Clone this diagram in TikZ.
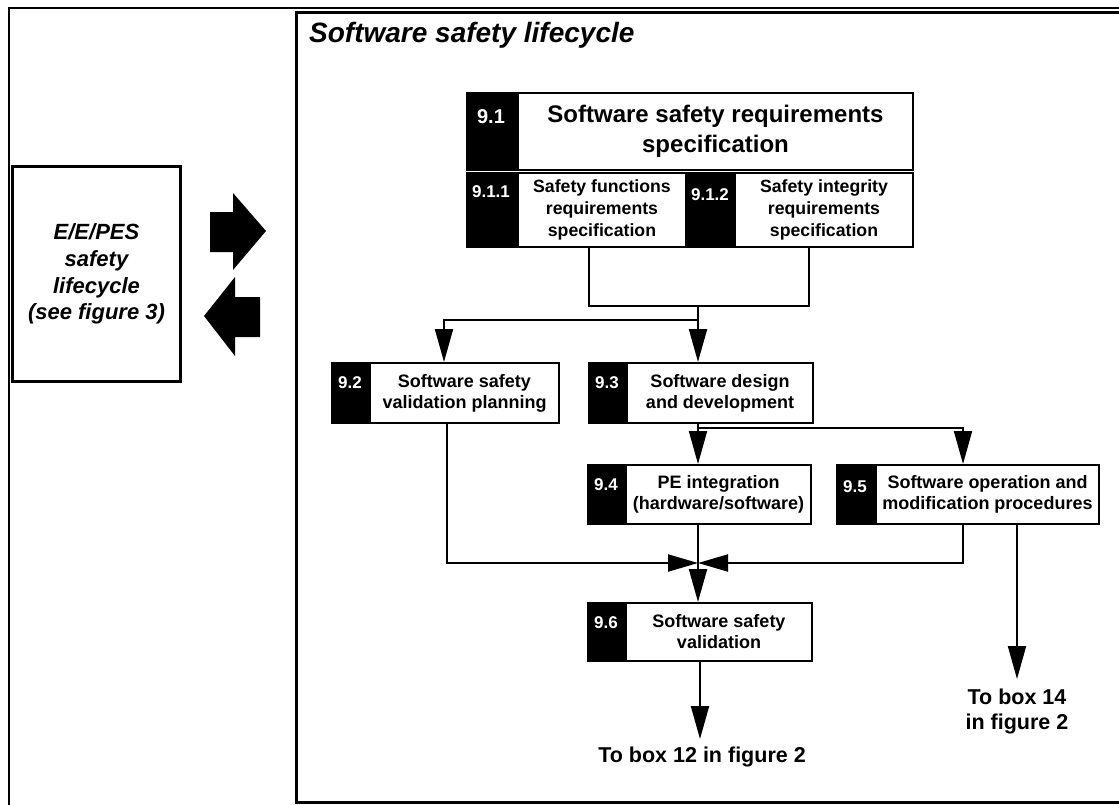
\documentclass[tikz,border=0pt]{standalone}
\usepackage{fontspec}
\setmainfont{Liberation Sans}
\usetikzlibrary{arrows.meta}
\begin{document}
\begin{tikzpicture}[x=1pt,y=-1pt,
  ln/.style={line width=2pt},
  arr/.style={line width=2pt,-{Triangle[length=33pt,width=18pt]}},
  arrh/.style={line width=2pt,-{Triangle[length=30pt,width=17pt]}},
  wbox/.style={draw,line width=2pt,fill=white,align=center,inner sep=0pt,anchor=north west,font=\bfseries\fontsize{18}{21}\selectfont},
  bbox/.style={draw,line width=2pt,fill=black,inner sep=0pt,anchor=north west},
  num/.style={text=white,inner sep=0pt,font=\bfseries\fontsize{17}{20}\selectfont},
  lbl/.style={align=center,inner sep=0pt,font=\bfseries\fontsize{21.5}{25}\selectfont},
  blockarrow/.style={fill=black}
]
\useasboundingbox (0,0) rectangle (1119,804);
% frames
\draw[line width=2.5pt] (9,806) -- (9,8) -- (1121,8);
\draw[line width=3pt] (1121,12) -- (296,12) -- (296,802) -- (1121,802);
% title
\node[anchor=base west,inner sep=0pt,font=\bfseries\itshape\fontsize{28}{34}\selectfont] (title) at (309,42) {Software safety lifecycle};
% left box
\node[draw,line width=3pt,minimum width=168,minimum height=215,anchor=north west,align=center,inner sep=0pt,font=\bfseries\itshape\fontsize{22}{26.7}\selectfont] (ee) at (11,165) {E/E/PES\\safety\\lifecycle\\(see figure 3)};
% block arrows
\fill[blockarrow] (210,212) -- (233,212) -- (233,193) -- (266,231) -- (233,270) -- (233,252) -- (210,252) -- cycle;
\fill[blockarrow] (260,297) -- (235,297) -- (235,277) -- (204,316) -- (235,356) -- (235,337) -- (260,337) -- cycle;
% 9.1
\node[bbox,minimum width=51,minimum height=77] (n91) at (466,92) {};
\node[wbox,minimum width=395,minimum height=77,font=\bfseries\fontsize{24}{30}\selectfont] (b91) at (517,92) {Software safety requirements\\specification};
\node[num,font=\bfseries\fontsize{20}{24}\selectfont] (l91) at (491,117) {9.1};
% 9.1.1
\node[bbox,minimum width=51,minimum height=74] (n911) at (466,172) {};
\node[wbox,minimum width=168,minimum height=74,font=\bfseries\fontsize{17.7}{21.7}\selectfont] (b911) at (517,172) {Safety functions\\requirements\\specification};
\node[num] (l911) at (491,192) {9.1.1};
% 9.1.2
\node[bbox,minimum width=49,minimum height=74] (n912) at (685,172) {};
\node[wbox,minimum width=178,minimum height=74,font=\bfseries\fontsize{17.7}{21.7}\selectfont] (b912) at (734,172) {Safety integrity\\requirements\\specification};
\node[num] (l912) at (710,195) {9.1.2};
% 9.2
\node[bbox,minimum width=38,minimum height=60] (n92) at (331,362) {};
\node[wbox,minimum width=189,minimum height=60] (b92) at (369,362) {Software safety\\validation planning};
\node[num] (l92) at (350,383) {9.2};
% 9.3
\node[bbox,minimum width=38,minimum height=60] (n93) at (588,362) {};
\node[wbox,minimum width=186,minimum height=60] (b93) at (626,362) {Software design\\and development};
\node[num] (l93) at (607,383) {9.3};
% 9.4
\node[bbox,minimum width=38,minimum height=59] (n94) at (587,464) {};
\node[wbox,minimum width=185,minimum height=59] (b94) at (625,464) {PE integration\\(hardware/software)};
\node[num] (l94) at (606,485) {9.4};
% 9.5
\node[bbox,minimum width=39,minimum height=59] (n95) at (836,464) {};
\node[wbox,minimum width=223,minimum height=59] (b95) at (875,464) {Software operation and\\modification procedures};
\node[num] (l95) at (855,487) {9.5};
% 9.6
\node[bbox,minimum width=38,minimum height=58] (n96) at (587,602) {};
\node[wbox,minimum width=186,minimum height=58] (b96) at (625,602) {Software safety\\validation};
\node[num] (l96) at (606,623) {9.6};
% labels
\node[lbl] (to12) at (702,757) {To box 12 in figure 2};
\node[lbl] (to14) at (1017,711) {To box 14\\in figure 2};
% coordinates
\coordinate (j1) at (589,306);
\coordinate (j2) at (809,306);
\coordinate (j3) at (698,306);
\coordinate (br) at (698,320);
\coordinate (brl) at (444,320);
\coordinate (s3) at (698,428);
\coordinate (s5) at (963,428);
\coordinate (jn) at (698,563);
\coordinate (jl) at (447,563);
\coordinate (jr) at (963,563);
\coordinate (e12) at (700,739);
\coordinate (e14) at (1017,679);
% connectors
\draw[ln] (j1 |- b911.south) -- (j1) -- (j2) -- (j2 |- b912.south);
\draw[ln] (j3) -- (br);
\draw[arr] (br) -- (brl) -- (brl |- b92.north);
\draw[arr] (br) -- (br |- b93.north);
\draw[ln] (b93.south -| s3) -- (s3);
\draw[arr] (s3) -- (s3 |- b94.north);
\draw[arr] (s3) -- (s5) -- (s5 |- b95.north);
\draw[arrh] (jl |- b92.south) -- (jl) -- (jn);
\draw[arrh] (jr |- b95.south) -- (jr) -- (jn);
\draw[arr] (b94.south -| jn) -- (b96.north -| jn);
\draw[arr] (b96.south -| e12) -- (e12);
\draw[arr] (b95.south -| e14) -- (e14);
\end{tikzpicture}
\end{document}
